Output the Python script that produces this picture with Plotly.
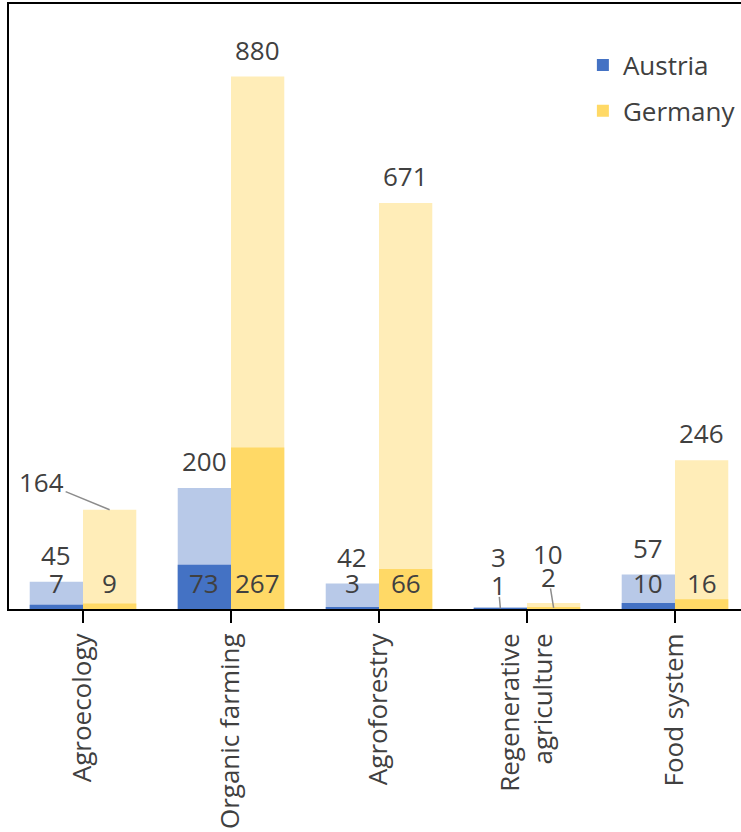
import plotly.graph_objects as go

categories = ["Agroecology", "Organic farming", "Agroforestry", "Regenerative agriculture", "Food system"]
tick_labels = ["Agroecology", "Organic farming", "Agroforestry", "Regenerative<br>agriculture", "Food system"]
austria_total = [45, 200, 42, 3, 57]
austria_subset = [7, 73, 3, 1, 10]
germany_total = [164, 880, 671, 10, 246]
germany_subset = [9, 267, 66, 2, 16]

FONT = "Open Sans"
TXT = "#404040"
A_DARK, A_LIGHT = "#4472C4", "#B8C9E8"
G_DARK, G_LIGHT = "#FFD966", "#FFEDB8"
W = 0.36
xs = list(range(len(categories)))

fig = go.Figure()
fig.add_trace(go.Bar(x=xs, y=austria_total, offset=-W, width=W, marker_color=A_LIGHT,
                     marker_line_width=0, showlegend=False, legendgroup="a"))
fig.add_trace(go.Bar(x=xs, y=germany_total, offset=0, width=W, marker_color=G_LIGHT,
                     marker_line_width=0, showlegend=False, legendgroup="g"))
fig.add_trace(go.Bar(x=xs, y=austria_subset, offset=-W, width=W, marker_color=A_DARK,
                     marker_line_width=0, name="Austria", legendgroup="a"))
fig.add_trace(go.Bar(x=xs, y=germany_subset, offset=0, width=W, marker_color=G_DARK,
                     marker_line_width=0, name="Germany", legendgroup="g"))

ann = []
def lab(x, y, text, yshift=0, **kw):
    d = dict(x=x, y=y, text=text, showarrow=False, yshift=yshift, height=22,
             font=dict(family=FONT, size=26, color=TXT), xref="x", yref="y")
    d.update(kw)
    ann.append(d)

LEADER = dict(showarrow=True, arrowhead=0, arrowwidth=1.5, arrowcolor="#8c8c8c")

for i in xs:
    ax_ = i - W / 2
    gx_ = i + W / 2
    if i == 3:
        continue
    lab(ax_, austria_total[i], str(austria_total[i]), 27)
    lab(ax_, 0, str(austria_subset[i]), 26)
    lab(gx_, 0, str(germany_subset[i]), 26)
    if i == 0:
        lab(gx_, germany_total[i], str(germany_total[i]), 0, ax=-68, ay=-28, **LEADER)
    else:
        lab(gx_, germany_total[i], str(germany_total[i]), 27)

# Regenerative agriculture (labels moved off the bars)
i = 3
lab(i - W / 2, austria_total[i], str(austria_total[i]), 50, xshift=-2)
lab(i - W / 2, austria_subset[i], str(austria_subset[i]), 0, ax=-2, ay=-23, height=20, **LEADER)
lab(i + W / 2, germany_total[i], str(germany_total[i]), 49, xshift=-6)
lab(i + W / 2, germany_subset[i], str(germany_subset[i]), 0, ax=-5, ay=-31, height=20, **LEADER)

fig.update_layout(
    barmode="overlay",
    width=741, height=832,
    margin=dict(l=9, r=0, t=4, b=223),
    paper_bgcolor="white", plot_bgcolor="white",
    font=dict(family=FONT, size=26, color=TXT),
    annotations=ann,
    legend=dict(x=0.784, y=0.938, xanchor="left", yanchor="top",
                font=dict(family=FONT, size=26, color=TXT),
                tracegroupgap=9, traceorder="grouped", bgcolor="rgba(0,0,0,0)"),
    xaxis=dict(range=[-0.5, 4.446], tickmode="array", tickvals=xs, ticktext=tick_labels,
               tickangle=-90, showline=True, linecolor="black", linewidth=2, mirror=True,
               ticks="outside", tickson="boundaries", ticklen=12, tickwidth=2,
               tickcolor="black", showgrid=False, zeroline=False,
               tickfont=dict(family=FONT, size=26, color=TXT)),
    yaxis=dict(range=[0, 1000], showline=True, linecolor="black", linewidth=2,
               showticklabels=False, ticks="", showgrid=False, zeroline=False),
)

fig.write_html("out.html", config={"displayModeBar": False},
               post_script="document.body.style.margin='0';")
